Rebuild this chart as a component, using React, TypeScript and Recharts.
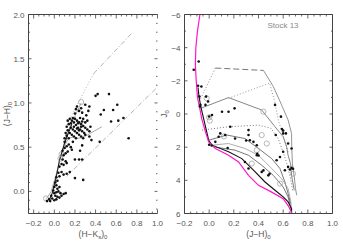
import { ComposedChart, Line, Scatter, XAxis, YAxis } from "recharts";

const W = 343;
const H = 243;
const AXIS = "#444";
const LABEL = "#555";
const FONT = "Liberation Sans, DejaVu Sans, sans-serif";

// ---------- left panel: (H-Ks)0 vs (J-H)0 ----------
const ccStars: [number, number][] = [
  [-0.07, -0.11], [-0.05, -0.09], [-0.04, -0.11], [-0.02, -0.08], [0.0, -0.1], [0.02, -0.09],
  [-0.03, -0.05], [0.01, -0.05], [0.03, -0.06], [0.05, -0.07], [0.07, -0.05], [0.09, -0.03],
  [0.0, -0.02], [0.02, -0.01], [0.04, 0.0], [-0.01, 0.01], [0.06, -0.02], [0.11, -0.02],
  [0.03, 0.03], [0.0, 0.05], [0.02, 0.07], [0.05, 0.05], [0.01, 0.1], [0.03, 0.12],
  [0.02, 0.16], [0.05, 0.17], [0.04, 0.21], [0.07, 0.22], [0.09, 0.19], [0.12, 0.2],
  [0.15, 0.22], [0.2, 0.15], [0.28, 0.13],
  [0.05, 0.28], [0.07, 0.31], [0.09, 0.3], [0.12, 0.32], [0.08, 0.36], [0.11, 0.34],
  [0.09, 0.41], [0.11, 0.43], [0.08, 0.46], [0.1, 0.49], [0.13, 0.45], [0.12, 0.51],
  [0.14, 0.53], [0.1, 0.56], [0.16, 0.5], [0.2, 0.36], [0.24, 0.36], [0.27, 0.36],
  [0.17, 0.47], [0.18, 0.56], [0.27, 0.52], [0.25, 0.46], [0.44, 0.56],
  [0.1, 0.6], [0.12, 0.63], [0.14, 0.6], [0.11, 0.66], [0.13, 0.69], [0.15, 0.66],
  [0.17, 0.64], [0.19, 0.62], [0.12, 0.73], [0.14, 0.76], [0.16, 0.72], [0.18, 0.7],
  [0.2, 0.68], [0.22, 0.66], [0.24, 0.64], [0.26, 0.62], [0.13, 0.8], [0.15, 0.82],
  [0.17, 0.8], [0.19, 0.78], [0.21, 0.75], [0.23, 0.72], [0.25, 0.7], [0.27, 0.68],
  [0.29, 0.66], [0.16, 0.77], [0.2, 0.82], [0.22, 0.8], [0.24, 0.78], [0.26, 0.76],
  [0.28, 0.74], [0.3, 0.72], [0.32, 0.7], [0.34, 0.68], [0.35, 0.73], [0.3, 0.78],
  [0.32, 0.8], [0.28, 0.82], [0.25, 0.83], [0.18, 0.83], [0.22, 0.71], [0.19, 0.73],
  [0.24, 0.69], [0.26, 0.73], [0.21, 0.6], [0.28, 0.6], [0.3, 0.64], [0.34, 0.62],
  [0.23, 0.77], [0.27, 0.79],
  [0.2, 0.88], [0.22, 0.96], [0.24, 0.91], [0.27, 0.89], [0.3, 0.98], [0.31, 0.86],
  [0.34, 0.96], [0.33, 0.91], [0.21, 0.93], [0.26, 0.94],
  [0.4, 1.08], [0.42, 1.1], [0.53, 1.1], [0.61, 0.98], [0.57, 0.92], [0.48, 0.92],
  [0.45, 0.87], [0.55, 0.79], [0.62, 0.8], [0.67, 0.83], [0.72, 0.6], [0.36, 0.58],
];
const ccCircles: [number, number][] = [[-0.08, -0.08], [0.06, 0.37], [0.07, 0.42], [0.26, 1.01]];
const ccDwarfLocus: [number, number][] = [
  [-0.05, -0.1], [-0.02, -0.02], [0.02, 0.17], [0.05, 0.35], [0.1, 0.55], [0.17, 0.76],
];
const ccGrayLocus: [number, number][] = [
  [-0.08, -0.09], [-0.03, 0.0], [0.02, 0.2], [0.06, 0.38], [0.1, 0.52], [0.14, 0.6],
  [0.19, 0.62], [0.23, 0.6], [0.27, 0.61], [0.3, 0.64],
];
const ccGiantLocus: [number, number][] = [[0.1, 0.52], [0.14, 0.7], [0.2, 0.85], [0.26, 1.0]];
const cttsLocus: [number, number][] = [[0.265, 0.6], [0.46, 0.73]];
const redUpperDotted: [number, number][] = [[0.12, 0.75], [0.38, 1.33]];
const redUpperDashDot: [number, number][] = [[0.38, 1.33], [0.76, 1.8]];
const redLower: [number, number][] = [[0.12, 0.17], [1.0, 1.18]];

const ccXTicks = [-0.2, 0.0, 0.2, 0.4, 0.6, 0.8, 1.0];
const ccYTicks = [0.0, 0.5, 1.0, 1.5, 2.0];

// ---------- right panel: (J-H)0 vs J ----------
const cmStars: [number, number][] = [
  [-0.085, -3.17], [-0.125, -2.67], [-0.09, -1.7], [-0.063, -1.66], [-0.079, -1.05],
  [-0.025, -1.05], [-0.009, -0.75], [-0.03, -0.55], [-0.071, -0.55], [-0.075, -0.45],
  [0.023, 0.06], [0.0, 0.15], [0.104, -0.14], [0.157, -0.14], [0.206, -0.34],
  [0.171, 0.77], [0.09, 1.17], [0.077, 1.37], [0.13, 1.27], [0.21, 1.48], [0.319, 0.97],
  [0.319, 1.27], [0.359, 1.68], [0.33, 1.58], [0.386, 1.88], [0.3, 1.6], [0.534, -0.55],
  [0.582, 0.16], [0.6, 1.17], [0.622, 1.17], [0.54, 1.27], [0.64, 1.78], [0.668, 2.08],
  [0.6, 2.28], [0.574, 2.59], [0.64, 3.19], [0.668, 3.25], [0.655, 3.35], [0.68, 3.3],
  [0.614, 3.39], [0.426, 3.49], [0.44, 3.4], [0.386, 2.49], [0.48, 3.7], [0.49, 3.6],
  [0.29, 2.89], [0.319, 3.29], [0.547, 2.79], [0.05, 1.68], [0.0, 1.85], [0.02, 1.9],
  [0.15, 2.05], [0.39, 2.4], [0.4, 2.5], [0.6, 1.0], [0.59, 0.9],
];
const cmCircles: [number, number][] = [
  [-0.02, -0.95], [0.0, 0.2], [0.005, 0.4], [0.44, -0.14], [0.426, 1.27], [0.467, 1.78],
  [0.386, 2.18], [0.345, 2.99], [0.574, 4.2], [0.12, 1.35], [0.68, 3.6],
];
const zams: [number, number][] = [
  [-0.075, -6], [-0.095, -5], [-0.108, -4], [-0.112, -3], [-0.105, -2], [-0.095, -1],
  [-0.075, -0.3], [-0.06, 0.3], [-0.03, 1.07], [-0.004, 1.68], [0.05, 2.08], [0.157, 2.49],
  [0.238, 2.89], [0.319, 3.7], [0.4, 4.3], [0.507, 4.71], [0.6, 5.11], [0.64, 5.52],
  [0.668, 5.92], [0.67, 6.0],
];
const isoTopDashed: [number, number][] = [[0.05, -2.77], [0.44, -2.63]];
const isoTopEdge: [number, number][] = [
  [0.44, -2.63], [0.52, -1.66], [0.587, -0.55], [0.64, 0.36], [0.668, 1.17], [0.67, 2.1],
  [0.675, 3.0], [0.69, 3.8], [0.7, 4.5], [0.71, 4.9],
];
const isoTopDotted: [number, number][] = [[0.05, -2.77], [-0.07, -0.9]];
const isoB: [number, number][] = [
  [0.157, -0.95], [0.49, -1.86], [0.53, -0.8], [0.56, 0.36], [0.6, 1.3], [0.64, 2.3],
];
const isoC: [number, number][] = [
  [-0.07, -0.34], [0.157, -0.99], [0.426, -0.24], [0.534, 0.77], [0.6, 1.37], [0.628, 1.98],
  [0.64, 2.49], [0.66, 3.0], [0.67, 3.8], [0.69, 4.6],
];
const isoD: [number, number][] = [
  [-0.058, 0.97], [0.157, 0.77], [0.4, 0.67], [0.5, 0.85], [0.56, 1.5], [0.6, 2.3],
  [0.63, 3.0], [0.66, 3.9], [0.68, 4.7],
];
const isoE: [number, number][] = [
  [-0.004, 1.58], [0.144, 1.27], [0.29, 1.48], [0.4, 2.08], [0.507, 2.69], [0.574, 3.29],
  [0.614, 4.1], [0.64, 4.8], [0.66, 5.4],
];
const isoF: [number, number][] = [
  [0.023, 1.88], [0.157, 1.78], [0.29, 2.08], [0.4, 2.49], [0.507, 3.29], [0.587, 3.9],
  [0.64, 4.5], [0.66, 5.2], [0.67, 5.8],
];
const isoG: [number, number][] = [
  [0.05, 2.0], [0.21, 2.18], [0.319, 2.49], [0.426, 3.09], [0.52, 3.7], [0.6, 4.4],
  [0.64, 5.0], [0.66, 5.6], [0.665, 6.0],
];
const isoH: [number, number][] = [
  [-0.09, -1.6], [-0.084, -1.15], [-0.071, -0.55], [-0.004, 1.58], [0.023, 1.88],
  [0.157, 2.28], [0.265, 2.69], [0.359, 3.39], [0.453, 4.1], [0.534, 4.6], [0.6, 5.0],
  [0.64, 5.3], [0.668, 5.72], [0.668, 6.0],
];

const cmXTicks = [-0.2, 0.0, 0.2, 0.4, 0.6, 0.8, 1.0];
const cmYTicks = [-6, -4, -2, 0, 2, 4, 6];

// ---------- helpers ----------
const pts = (a: [number, number][]) => a.map(([x, y]) => ({ x, y }));

function steps(from: number, to: number, step: number) {
  const out: number[] = [];
  for (let v = from; v <= to + 1e-9; v += step) out.push(Math.round(v * 1000) / 1000);
  return out;
}

const fmt1 = (v: number) => (v < 0 ? "\u2212" : "") + Math.abs(v).toFixed(1);
const fmt0 = (v: number) => (v < 0 ? "\u2212" : "") + Math.abs(v).toFixed(0);

type Box = { l: number; r: number; t: number; b: number };
type Side = "bottom" | "top" | "left" | "right";

// IDL-style inward ticks; only majors get a label
function tickRenderer(side: Side, box: Box, majors: number[], fmt?: (v: number) => string) {
  return (p: any) => {
    const v = p.payload.value;
    const major = majors.some((m) => Math.abs(m - v) < 1e-6);
    const horiz = side === "bottom" || side === "top";
    const len = horiz ? (major ? 4 : 2) : major ? 3 : 1.5;
    if (horiz) {
      const x = p.payload.coordinate ?? p.x;
      const y0 = side === "bottom" ? box.b : box.t;
      const y1 = side === "bottom" ? box.b - len : box.t + len;
      return (
        <g>
          <line x1={x} x2={x} y1={y0} y2={y1} stroke={AXIS} strokeWidth={0.8} />
          {major && fmt && (
            <text x={x} y={box.b + 12} textAnchor="middle" fontSize={8} fill={LABEL} fontFamily={FONT}>
              {fmt(v)}
            </text>
          )}
        </g>
      );
    }
    const y = p.payload.coordinate ?? p.y;
    const x0 = side === "left" ? box.l : box.r;
    const x1 = side === "left" ? box.l + len : box.r - len;
    return (
      <g>
        <line x1={x0} x2={x1} y1={y} y2={y} stroke={AXIS} strokeWidth={0.8} />
        {major && fmt && (
          <text x={box.l - 4} y={y + 3} textAnchor="end" fontSize={8} fill={LABEL} fontFamily={FONT}>
            {fmt(v)}
          </text>
        )}
      </g>
    );
  };
}

const dot = (r: number, fill: string) => (p: any) =>
  p.cx == null ? <g /> : <circle cx={p.cx} cy={p.cy} r={r} fill={fill} />;
const ring = (r: number, stroke: string) => (p: any) =>
  p.cx == null ? <g /> : <circle cx={p.cx} cy={p.cy} r={r} fill="none" stroke={stroke} strokeWidth={0.7} />;

function curve(key: string, data: [number, number][], stroke: string, width = 0.8, dash?: string) {
  return (
    <Line
      key={key}
      data={pts(data)}
      dataKey="y"
      type="linear"
      stroke={stroke}
      strokeWidth={width}
      strokeDasharray={dash}
      dot={false}
      activeDot={false}
      isAnimationActive={false}
    />
  );
}

const leftBox: Box = { l: 28.5, r: 157.5, t: 14.5, b: 213.5 };
const rightBox: Box = { l: 184.5, r: 332.5, t: 14.5, b: 213.5 };

// axis band sizes (all drawing is done by the tick renderers)
const BOTTOM_H = 20;
const LEFT_W = 20;
const TOP_H = 4;
const RIGHT_W = 4;

function marginFor(box: Box) {
  return {
    top: box.t - TOP_H,
    left: box.l - LEFT_W,
    right: W - box.r - RIGHT_W,
    bottom: H - box.b - BOTTOM_H,
  };
}

function ColourColour() {
  const xDomain: [number, number] = [-0.25, 1.0];
  const yDomain: [number, number] = [-0.25, 2.0];
  const xAll = steps(-0.25, 1.0, 0.05);
  const yAll = steps(-0.2, 2.0, 0.1);
  return (
    <ComposedChart width={W} height={H} margin={marginFor(leftBox)}>
      <XAxis xAxisId="b" type="number" dataKey="x" domain={xDomain} allowDataOverflow ticks={xAll} interval={0}
        height={BOTTOM_H} tickLine={false} axisLine={{ stroke: AXIS }} tick={tickRenderer("bottom", leftBox, ccXTicks, fmt1)} />
      <XAxis xAxisId="t" orientation="top" type="number" dataKey="x" domain={xDomain} allowDataOverflow ticks={xAll}
        interval={0} height={TOP_H} tickLine={false} axisLine={{ stroke: AXIS }} tick={tickRenderer("top", leftBox, ccXTicks)} />
      <YAxis yAxisId="l" type="number" dataKey="y" domain={yDomain} allowDataOverflow ticks={yAll} interval={0} width={LEFT_W}
        tickLine={false} axisLine={{ stroke: AXIS }} tick={tickRenderer("left", leftBox, ccYTicks, fmt1)} />
      <YAxis yAxisId="r" orientation="right" type="number" dataKey="y" domain={yDomain} allowDataOverflow
        ticks={yAll} interval={0} width={RIGHT_W} tickLine={false} axisLine={false} tick={tickRenderer("right", leftBox, ccYTicks)} />
      {[
        curve("redUpperDotted", redUpperDotted, "#aaa", 0.9, "1 2"),
        curve("redUpperDashDot", redUpperDashDot, "#aaa", 0.9, "5 2 1 2"),
        curve("redLower", redLower, "#aaa", 0.9, "5 2 1 2"),
        curve("ctts", cttsLocus, "#aaa", 1),
        curve("grayLocus", ccGrayLocus, "#999", 0.8),
        curve("giantLocus", ccGiantLocus, "#999", 0.8),
        curve("dwarfLocus", ccDwarfLocus, "#222", 1.1),
      ].map((el) => ({ ...el, props: { ...el.props, xAxisId: "b", yAxisId: "l" } }))}
      <Scatter xAxisId="b" yAxisId="l" data={pts(ccCircles)} shape={ring(2.6, "#999")} isAnimationActive={false} />
      <Scatter xAxisId="b" yAxisId="l" data={pts(ccStars)} shape={dot(1.3, "#111")} isAnimationActive={false} />
      {/* keep mirror axes attached to something so they get a scale */}
      <Scatter xAxisId="t" yAxisId="r" data={[]} isAnimationActive={false} />
    </ComposedChart>
  );
}

function ColourMagnitude() {
  const xDomain: [number, number] = [-0.2, 1.0];
  const yDomain: [number, number] = [-6, 6];
  const xAll = steps(-0.2, 1.0, 0.05);
  const yAll = steps(-6, 6, 1);
  return (
    <ComposedChart width={W} height={H} margin={marginFor(rightBox)}>
      <XAxis xAxisId="b" type="number" dataKey="x" domain={xDomain} allowDataOverflow ticks={xAll} interval={0}
        height={BOTTOM_H} tickLine={false} axisLine={{ stroke: AXIS }} tick={tickRenderer("bottom", rightBox, cmXTicks, fmt1)} />
      <XAxis xAxisId="t" orientation="top" type="number" dataKey="x" domain={xDomain} allowDataOverflow ticks={xAll}
        interval={0} height={TOP_H} tickLine={false} axisLine={{ stroke: AXIS }} tick={tickRenderer("top", rightBox, cmXTicks)} />
      <YAxis yAxisId="l" type="number" dataKey="y" reversed domain={yDomain} allowDataOverflow ticks={yAll} interval={0}
        width={LEFT_W} tickLine={false} axisLine={{ stroke: AXIS }} tick={tickRenderer("left", rightBox, cmYTicks, fmt0)} />
      <YAxis yAxisId="r" orientation="right" type="number" dataKey="y" reversed domain={yDomain} allowDataOverflow
        ticks={yAll} interval={0} width={RIGHT_W} tickLine={false} axisLine={{ stroke: AXIS }} tick={tickRenderer("right", rightBox, cmYTicks)} />
      {[
        curve("topDashed", isoTopDashed, "#666", 0.9, "6 3"),
        curve("topEdge", isoTopEdge, "#888", 0.9),
        curve("topDotted", isoTopDotted, "#888", 0.9, "1 2"),
        curve("isoB", isoB, "#888", 0.9, "1 2"),
        curve("isoC", isoC, "#777", 0.9),
        curve("isoD", isoD, "#666", 0.9, "1 2"),
        curve("isoE", isoE, "#555", 0.8),
        curve("isoF", isoF, "#999", 0.8),
        curve("isoG", isoG, "#555", 0.8),
        curve("isoH", isoH, "#111", 1.1),
        curve("zams", zams, "#ff14c8", 1.2),
      ].map((el) => ({ ...el, props: { ...el.props, xAxisId: "b", yAxisId: "l" } }))}
      <Scatter xAxisId="b" yAxisId="l" data={pts(cmCircles)} shape={ring(2.6, "#999")} isAnimationActive={false} />
      <Scatter xAxisId="b" yAxisId="l" data={pts(cmStars)} shape={dot(1.3, "#111")} isAnimationActive={false} />
      <Scatter xAxisId="t" yAxisId="r" data={[]} isAnimationActive={false} />
    </ComposedChart>
  );
}

function Titles() {
  const t = { fontFamily: FONT, fontSize: 8.5, fill: LABEL };
  const sub = { fontSize: 6 };
  const midL = (leftBox.l + leftBox.r) / 2;
  const midR = (rightBox.l + rightBox.r) / 2;
  const midY = (leftBox.t + leftBox.b) / 2;
  return (
    <svg width={W} height={H} style={{ position: "absolute", left: 0, top: 0, pointerEvents: "none" }}>
      <text x={midL} y={237} textAnchor="middle" {...t}>
        (H{"\u2212"}K<tspan dy={2} {...sub}>s</tspan>
        <tspan dy={-2}>)</tspan>
        <tspan dy={2} {...sub}>0</tspan>
      </text>
      <text x={midR} y={237} textAnchor="middle" {...t}>
        (J{"\u2212"}H)<tspan dy={2} {...sub}>0</tspan>
      </text>
      <text transform={`translate(10,${midY}) rotate(-90)`} textAnchor="middle" {...t}>
        (J{"\u2212"}H)<tspan dy={2} {...sub}>0</tspan>
      </text>
      <text transform={`translate(167,${midY}) rotate(-90)`} textAnchor="middle" {...t}>
        J<tspan dy={2} {...sub}>0</tspan>
      </text>
      <text x={283} y={28} textAnchor="middle" fontFamily={FONT} fontSize={8} fill="#888">
        Stock 13
      </text>
    </svg>
  );
}

export default function App() {
  return (
    <div style={{ position: "absolute", left: 0, top: 0, width: W, height: H, background: "#fff" }}>
      <div style={{ position: "absolute", left: 0, top: 0 }}>
        <ColourColour />
      </div>
      <div style={{ position: "absolute", left: 0, top: 0 }}>
        <ColourMagnitude />
      </div>
      <Titles />
    </div>
  );
}
